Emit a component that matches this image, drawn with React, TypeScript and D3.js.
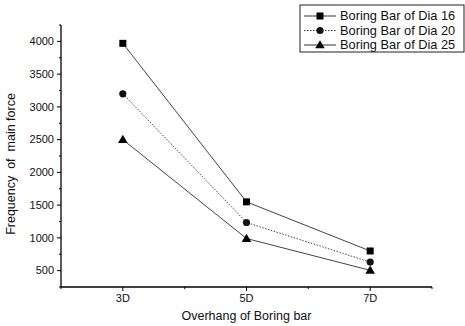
import React from "react";
import * as d3 from "d3";

const categories = ["3D", "5D", "7D"];
const categoryX = [3, 5, 7];
const seriesNames = ["Boring Bar of Dia 16", "Boring Bar of Dia 20", "Boring Bar of Dia 25"];
const dia16 = [3970, 1550, 800];
const dia20 = [3200, 1235, 630];
const dia25 = [2500, 990, 505];
const yTicks = [500, 1000, 1500, 2000, 2500, 3000, 3500, 4000];
const yMinor = [250, 750, 1250, 1750, 2250, 2750, 3250, 3750, 4250];
const xMinor = [2, 4, 6, 8];

const W = 465, H = 326;
const x = d3.scaleLinear().domain([2, 8]).range([61, 432]);
const y = d3.scaleLinear().domain([250, 4250]).range([287, 25]);

const series = [
  { name: seriesNames[0], values: dia16, dash: "none", marker: "square" },
  { name: seriesNames[1], values: dia20, dash: "1.5,1.5", marker: "circle" },
  { name: seriesNames[2], values: dia25, dash: "none", marker: "triangle" },
];

function Marker({ type, cx, cy }: { type: string; cx: number; cy: number }) {
  if (type === "square") return <rect x={cx - 3.5} y={cy - 3.5} width={7} height={7} fill="#000" />;
  if (type === "circle") return <circle cx={cx} cy={cy} r={3.6} fill="#111" />;
  const s = 4.8;
  return <path d={`M${cx},${cy - s} L${cx + s},${cy + s * 0.7} L${cx - s},${cy + s * 0.7} Z`} fill="#000" />;
}

export default function App() {
  const line = d3.line<number>().x((_, i) => x(categoryX[i])).y((d) => y(d));
  const font = "Arial, 'Liberation Sans', sans-serif";
  return (
    <svg width={W} height={H} style={{ position: "absolute", left: 0, top: 0, background: "#fff" }} fontFamily={font}>
      <rect width={W} height={H} fill="#fff" />
      {/* axes */}
      <line x1={x(2)} x2={x(2)} y1={y(4250)} y2={y(250)} stroke="#000" strokeWidth={1.3} />
      <line x1={x(2)} x2={x(8)} y1={y(250)} y2={y(250)} stroke="#000" strokeWidth={1.3} />
      {yTicks.map((t) => (
        <g key={t}>
          <line x1={x(2) - 4} x2={x(2)} y1={y(t)} y2={y(t)} stroke="#000" />
          <text x={x(2) - 7} y={y(t)} dy="0.35em" textAnchor="end" fontSize={11} fill="#111">{t}</text>
        </g>
      ))}
      {yMinor.map((t) => (
        <line key={t} x1={x(2) - 2} x2={x(2)} y1={y(t)} y2={y(t)} stroke="#000" />
      ))}
      {categoryX.map((c, i) => (
        <g key={c}>
          <line x1={x(c)} x2={x(c)} y1={y(250)} y2={y(250) + 4} stroke="#000" />
          <text x={x(c)} y={y(250) + 15} textAnchor="middle" fontSize={11} fill="#111">{categories[i]}</text>
        </g>
      ))}
      {xMinor.map((c) => (
        <line key={c} x1={x(c)} x2={x(c)} y1={y(250)} y2={y(250) + 2} stroke="#000" />
      ))}
      <text x={x(5)} y={320} textAnchor="middle" fontSize={12.5} fill="#111">Overhang of Boring bar</text>
      <text transform={`translate(15,${(y(4250) + y(250)) / 2 + 8}) rotate(-90)`} textAnchor="middle" fontSize={12.5} fill="#111" style={{ whiteSpace: "pre" }}>
        {"Frequency  of  main force"}
      </text>
      {/* series */}
      {series.map((s) => (
        <g key={s.name}>
          <path d={line(s.values) || ""} fill="none" stroke="#444" strokeWidth={1} strokeDasharray={s.dash} />
          {s.values.map((v, i) => (
            <Marker key={i} type={s.marker} cx={x(categoryX[i])} cy={y(v)} />
          ))}
        </g>
      ))}
      {/* legend */}
      <rect x={300} y={5} width={164} height={47} fill="#fff" stroke="#222" strokeWidth={1} />
      {series.map((s, i) => {
        const ly = 16 + i * 14.5;
        return (
          <g key={s.name}>
            <line x1={304} x2={336} y1={ly} y2={ly} stroke="#333" strokeDasharray={s.dash} />
            <Marker type={s.marker} cx={320} cy={ly} />
            <text x={340} y={ly} dy="0.35em" fontSize={12.8} fill="#111">{s.name}</text>
          </g>
        );
      })}
    </svg>
  );
}
